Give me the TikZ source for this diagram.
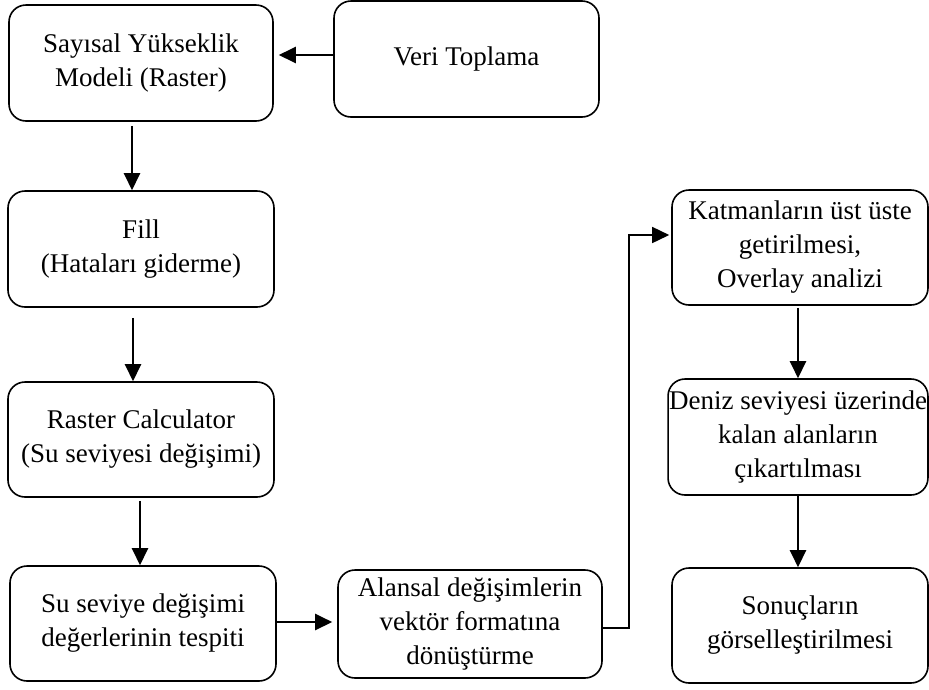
\documentclass[tikz,border=0pt]{standalone}
\usepackage{fontspec}
\setmainfont{Liberation Serif}
\usetikzlibrary{arrows.meta}
\begin{document}
\begin{tikzpicture}[x=1pt,y=-1pt,
  box/.style={draw,line width=1.6pt,rounded corners=17pt,align=center,inner sep=1pt,
    font=\fontsize{27}{34}\selectfont},
  arr/.style={line width=2.4pt,-{Triangle[length=17pt,width=16pt]}},
  conn/.style={line width=1.6pt,-{Triangle[length=17pt,width=16pt]}}]
\useasboundingbox (0,0) rectangle (929,689);
\node[box,minimum width=264pt,minimum height=116pt] (A) at (141,63) {Sayısal Yükseklik\\Modeli (Raster)};
\node[box,minimum width=265pt,minimum height=116pt] (V) at (466.5,59) {Veri Toplama};
\node[box,minimum width=266pt,minimum height=116pt] (F) at (141,249) {Fill\\ (Hataları giderme)};
\node[box,minimum width=266pt,minimum height=115pt] (R) at (141,439.5) {Raster Calculator\\(Su seviyesi değişimi)};
\node[box,minimum width=266pt,minimum height=115pt] (S) at (143,623.5) {Su seviye değişimi\\değerlerinin tespiti};
\node[box,minimum width=264pt,minimum height=108pt] (L) at (470,624) {Alansal değişimlerin\\vektör formatına\\dönüştürme};
\node[box,minimum width=256pt,minimum height=115pt] (K) at (800,247.5) {Katmanların üst üste\\getirilmesi,\\Overlay analizi};
\node[box,minimum width=258pt,minimum height=116pt] (D) at (798,437) {Deniz seviyesi üzerinde\\kalan alanların\\çıkartılması};
\node[box,minimum width=256pt,minimum height=115pt] (G) at (800,625.5) {Sonuçların\\görselleştirilmesi};
\draw[arr,shorten >=5pt] ([yshift=4pt]V.west) -- ([yshift=4pt]V.west -| A.east);
\draw[arr,shorten <=4pt] ([xshift=-9pt]A.south) -- ([xshift=-9pt]F.north);
\draw[arr,shorten <=10pt] ([xshift=-8pt]F.south) -- ([xshift=-8pt]R.north);
\draw[arr,shorten <=3pt] ([xshift=-1pt]R.south) -- ([xshift=-3pt]S.north);
\draw[arr,shorten >=5pt] ([yshift=1.5pt]S.east) -- ([yshift=1.5pt]S.east -| L.west);
\draw[conn,shorten >=2pt] ([yshift=-4pt]L.east) -- ++(26,0) |- ([yshift=12.5pt]K.west);
\draw[arr,shorten <=2pt] ([xshift=-2pt]K.south) -- (D.north);
\draw[arr] (D.south) -- (D.south |- G.north);
\end{tikzpicture}
\end{document}
